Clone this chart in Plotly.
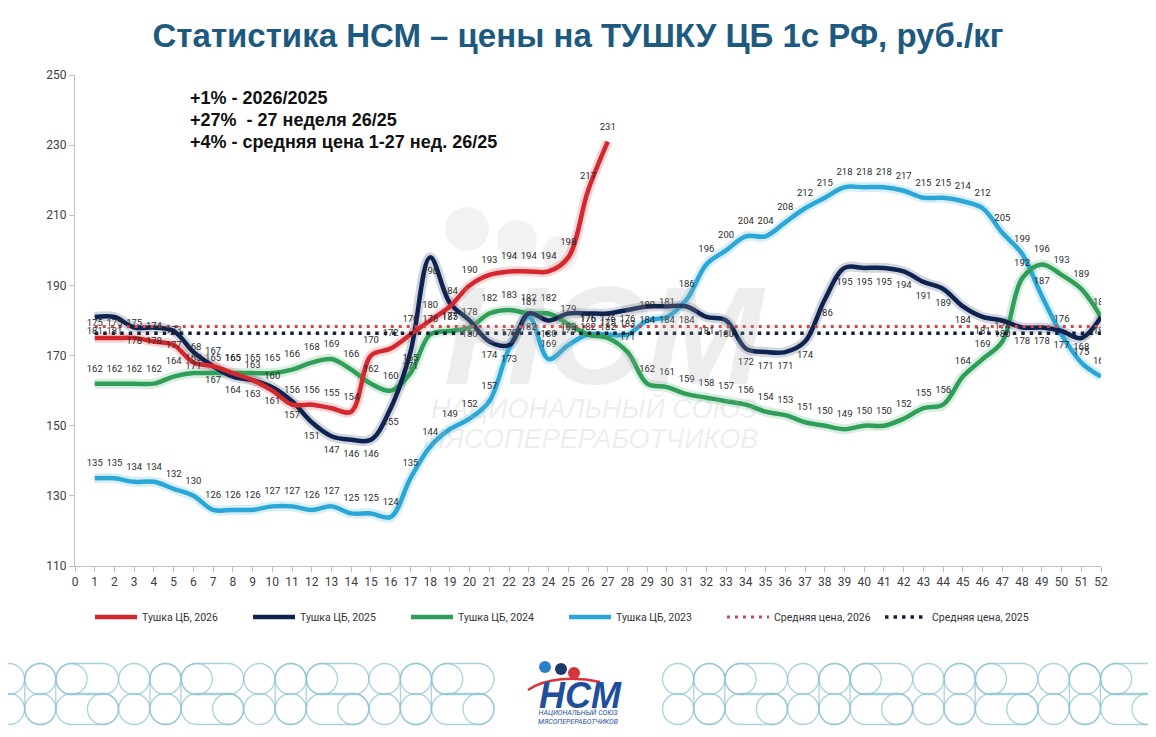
import plotly.graph_objects as go

# weekly prices, rub/kg
weeks = list(range(1, 53))
weeks_2026 = list(range(1, 28))

price_2026 = [175, 175, 175, 174, 173, 168, 167, 165, 163, 160, 156, 156, 155, 154,
              170, 172, 176, 180, 184, 190, 193, 194, 194, 194, 198, 217, 231]

price_2025 = [181, 181, 178, 178, 177, 171, 167, 164, 163, 161, 157, 151, 147, 146,
              146, 155, 171, 198, 185, 180, 174, 173, 182, 180, 182, 182, 182, 183,
              184, 184, 184, 181, 180, 172, 171, 171, 174, 186, 195, 195, 195, 194,
              191, 189, 184, 181, 180, 178, 178, 177, 175, 181]

price_2024 = [162, 162, 162, 162, 164, 165, 165, 165, 165, 165, 166, 168, 169, 166,
              162, 160, 165, 176, 177, 178, 182, 183, 182, 182, 179, 176, 175, 171,
              162, 161, 159, 158, 157, 156, 154, 153, 151, 150, 149, 150, 150, 152,
              155, 156, 164, 169, 174, 192, 196, 193, 189, 181]

price_2023 = [135, 135, 134, 134, 132, 130, 126, 126, 126, 127, 127, 126, 127, 125,
              125, 124, 135, 144, 149, 152, 157, 172, 181, 169, 173, 176, 176, 176,
              180, 181, 186, 196, 200, 204, 204, 208, 212, 215, 218, 218, 218, 217,
              215, 215, 214, 212, 205, 199, 187, 176, 168, 164]

# average price lines
avg_2026 = [178.3] * len(weeks)
avg_2025 = [176.4] * len(weeks)

y_ticks = [110, 130, 150, 170, 190, 210, 230, 250]

notes = ["+1% - 2026/2025",
         "+27%  - 27 неделя 26/25",
         "+4% - средняя цена 1-27 нед. 26/25"]

NARROW = "Liberation Sans Narrow, Arial Narrow, Roboto, sans-serif"
BOLD = "Liberation Sans, Arial, sans-serif"

# page offset of the plot div (default body margin) and plot area in page pixels
OFF = 8
W, H = 1156 - OFF, 737 - OFF
L, R, T, B = 75, 1101, 75, 566


def px(x):
    return (x - L) / (R - L)


def py(y):
    return (B - y) / (B - T)


fig = go.Figure()

series = [
    ("Тушка ЦБ, 2023", weeks, price_2023, "#2aa7d6", "top center", 4),
    ("Тушка ЦБ, 2024", weeks, price_2024, "#2e9e58", "top center", 3),
    ("Тушка ЦБ, 2025", weeks, price_2025, "#0f2350", "bottom center", 2),
    ("Тушка ЦБ, 2026", weeks_2026, price_2026, "#d4272e", "top center", 1),
]

# soft halo under each line
for name, x, y, col, _, _ in series:
    fig.add_trace(go.Scatter(
        x=x, y=y, mode="lines", line=dict(color=col, width=10, shape="spline"),
        opacity=0.18, showlegend=False, hoverinfo="skip"))

for name, x, y, col, _, rank in series:
    fig.add_trace(go.Scatter(
        x=x, y=y, mode="lines", name=name, legendrank=rank,
        line=dict(color=col, width=4.5, shape="spline")))

fig.add_trace(go.Scatter(
    x=weeks, y=avg_2026, mode="lines", name="Средняя цена, 2026", legendrank=5,
    line=dict(color="#d9434a", width=3, dash="3px,5px")))
fig.add_trace(go.Scatter(
    x=weeks, y=avg_2025, mode="lines", name="Средняя цена, 2025", legendrank=6,
    line=dict(color="#14213d", width=3.5, dash="3.5px,5px")))

# data labels
for name, x, y, col, pos, _ in series:
    fig.add_trace(go.Scatter(
        x=x, y=y, mode="markers+text", text=[str(v) for v in y],
        textposition=pos, marker=dict(size=14, color="rgba(0,0,0,0)"),
        textfont=dict(family=NARROW, size=9.5, color="#2b2b2b"),
        showlegend=False, hoverinfo="skip"))


def note(text, x, y, size, color, family=BOLD, style="normal", xanchor="center"):
    return dict(text=text, x=px(x), y=py(y), xref="paper", yref="paper",
                xanchor=xanchor, yanchor="middle", showarrow=False,
                font=dict(family=family, size=size, color=color, style=style))


ann = []
for i, t in enumerate(notes):
    ann.append(note("<b>" + t + "</b>", 188, 98 + 22 * i, 18, "#111111", xanchor="left"))

# watermark
wm = "rgba(175,175,175,0.22)"
ann.append(note("<b>НСМ</b>", 605, 335, 140, wm, style="italic"))
ann.append(note("НАЦИОНАЛЬНЫЙ СОЮЗ", 594, 408, 27, wm, style="italic"))
ann.append(note("МЯСОПЕРЕРАБОТЧИКОВ", 590, 439, 27, wm, style="italic"))

# footer logo
ann.append(note("<b>НСМ</b>", 580, 695, 36, "#1f4f9c", style="italic"))
ann.append(note("НАЦИОНАЛЬНЫЙ СОЮЗ<br>МЯСОПЕРЕРАБОТЧИКОВ", 578, 717, 7, "#1f4f9c",
                family=NARROW, style="italic"))

shapes = []


def circ(cx, cy, r, line=None, fill=None, layer="above"):
    shapes.append(dict(type="circle", xref="paper", yref="paper",
                       x0=px(cx - r), x1=px(cx + r), y0=py(cy + r), y1=py(cy - r),
                       line=line or dict(width=0), fillcolor=fill, layer=layer))


def pill(x1, y1, x2, y2, r, col):
    k = 0.5523 * r
    if y1 == y2:
        pts = [("M", [(x1, y1 - r)]), ("L", [(x2, y1 - r)]),
               ("C", [(x2 + k, y1 - r), (x2 + r, y1 - k), (x2 + r, y1)]),
               ("C", [(x2 + r, y1 + k), (x2 + k, y1 + r), (x2, y1 + r)]),
               ("L", [(x1, y1 + r)]),
               ("C", [(x1 - k, y1 + r), (x1 - r, y1 + k), (x1 - r, y1)]),
               ("C", [(x1 - r, y1 - k), (x1 - k, y1 - r), (x1, y1 - r)])]
    else:
        pts = [("M", [(x1 - r, y1)]), ("L", [(x1 - r, y2)]),
               ("C", [(x1 - r, y2 + k), (x1 - k, y2 + r), (x1, y2 + r)]),
               ("C", [(x1 + k, y2 + r), (x1 + r, y2 + k), (x1 + r, y2)]),
               ("L", [(x1 + r, y1)]),
               ("C", [(x1 + r, y1 - k), (x1 + k, y1 - r), (x1, y1 - r)]),
               ("C", [(x1 - k, y1 - r), (x1 - r, y1 - k), (x1 - r, y1)])]
    d = ""
    for cmd, ps in pts:
        d += cmd + " ".join("%.5f,%.5f" % (px(a), py(b)) for a, b in ps) + " "
    shapes.append(dict(type="path", xref="paper", yref="paper", path=d + "Z",
                       line=dict(color=col, width=1.3)))


pat = "rgba(140,195,212,0.75)"
u, r0, ytop, ybot = 31.3, 15.5, 679, 709
for start, stop in [(9, 500), (678, 1160)]:
    k = 0
    while start + u * k < stop:
        cx = start + u * k
        m = k % 4
        if m in (0, 1):
            circ(cx, ytop, r0, line=dict(color=pat, width=1.3))
            circ(cx, ybot, r0, line=dict(color=pat, width=1.3))
        if m == 1:
            pill(cx, ytop, cx, ybot, r0, pat)
        if m == 2:
            pill(cx, ytop, cx + u, ytop, r0, pat)
            circ(cx, ytop, r0, line=dict(color=pat, width=1.3))
            pill(cx, ybot, cx + u, ybot, r0, pat)
            circ(cx + u, ybot, r0, line=dict(color=pat, width=1.3))
        k += 1

# logo heads and swoosh
circ(545, 667, 6, fill="#2a7fc9")
circ(561, 669, 6, fill="#1b3a6b")
circ(574, 673, 6, fill="#d8343c")
sw = [(528, 690), (545, 678), (575, 676), (600, 682)]
shapes.append(dict(type="path", xref="paper", yref="paper",
                   path="M%.5f,%.5f C%.5f,%.5f %.5f,%.5f %.5f,%.5f" % (
                       px(sw[0][0]), py(sw[0][1]), px(sw[1][0]), py(sw[1][1]),
                       px(sw[2][0]), py(sw[2][1]), px(sw[3][0]), py(sw[3][1])),
                   line=dict(color="#d8343c", width=2.5)))
# watermark heads
circ(467, 229, 22, fill="rgba(175,175,175,0.16)", layer="below")
circ(517, 240, 20, fill="rgba(175,175,175,0.16)", layer="below")
circ(560, 254, 18, fill="rgba(175,175,175,0.16)", layer="below")

fig.update_layout(
    width=W, height=H,
    margin=dict(l=L - OFF, r=W + OFF - R, t=T - OFF, b=H + OFF - B, autoexpand=False),
    paper_bgcolor="white", plot_bgcolor="white",
    title=dict(text="<b>Статистика НСМ – цены на ТУШКУ ЦБ 1с РФ, руб./кг</b>",
               x=(578 - OFF) / W, xref="container", xanchor="center",
               y=1 - (35 - OFF) / H, yref="container", yanchor="middle",
               font=dict(family=BOLD, size=33, color="#1d5a80")),
    xaxis=dict(range=[0, 52], tickmode="linear", tick0=0, dtick=1,
               showgrid=False, zeroline=False, showline=True, linecolor="#bfbfbf",
               ticks="outside", ticklen=5, tickcolor="#bfbfbf",
               tickfont=dict(family=NARROW, size=12, color="#404040")),
    yaxis=dict(range=[110, 250], tickvals=y_ticks,
               showgrid=False, zeroline=False, showline=True, linecolor="#bfbfbf",
               ticks="outside", ticklen=5, tickcolor="#bfbfbf",
               tickfont=dict(family=NARROW, size=12, color="#404040")),
    legend=dict(orientation="h", x=px(90), y=py(617), xanchor="left", yanchor="middle",
                itemwidth=42, entrywidth=101, entrywidthmode="pixels",
                traceorder="normal",
                font=dict(family=NARROW, size=10.5, color="#333333")),
    annotations=ann,
    shapes=shapes,
    showlegend=True,
)

fig.write_html("out.html")
